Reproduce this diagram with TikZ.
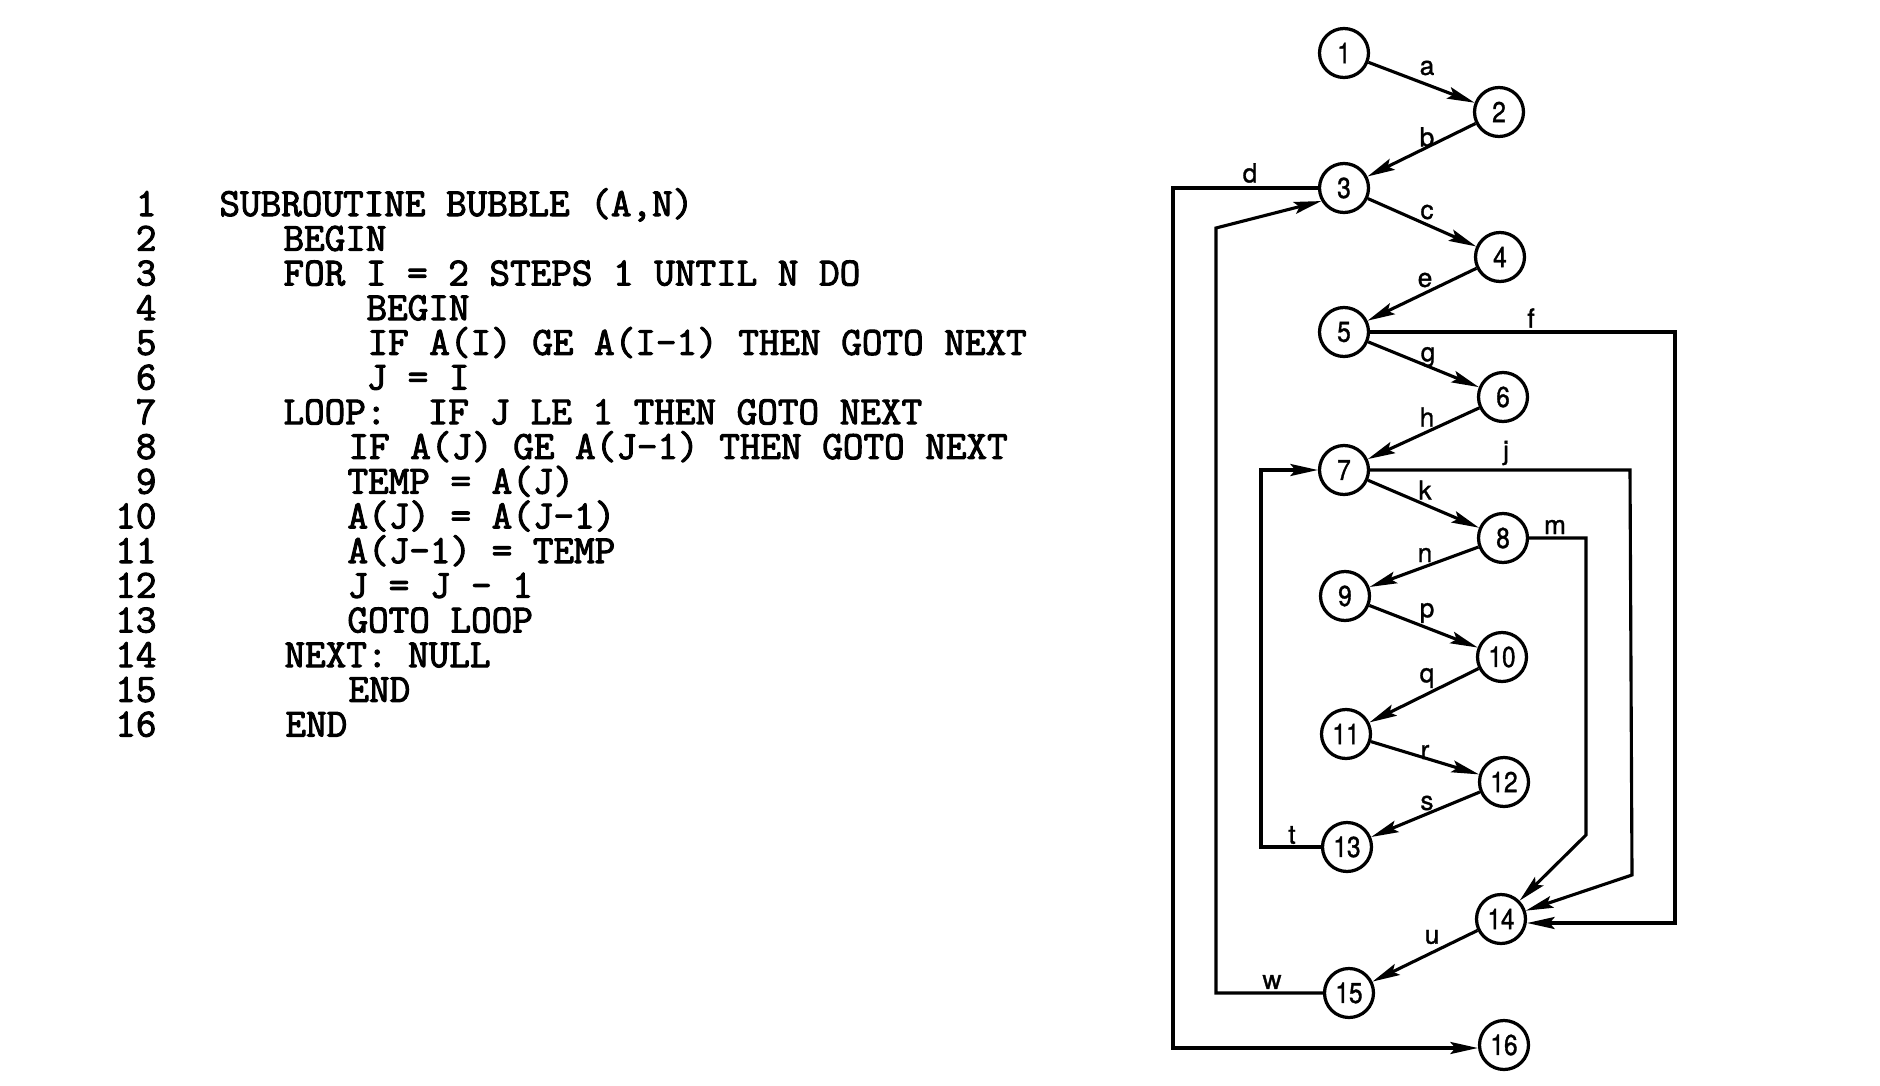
\documentclass[tikz,border=0pt]{standalone}
\usepackage{fontspec}
\usetikzlibrary{arrows.meta}
\newfontfamily\codefont{Latin Modern Mono}[FakeBold=2.5]
\newfontfamily\graphfont{TeX Gyre Heros}[FakeStretch=0.85,FakeBold=1.2]
\newfontfamily\labelfont{TeX Gyre Heros}[FakeBold=1.2]
\begin{document}
\begin{tikzpicture}[x=0.4pt,y=-0.4pt,
  cnode/.style={circle,draw,line width=1.3pt,minimum size=19.6pt,inner sep=0pt,font=\graphfont\fontsize{11.5}{12}\selectfont},
  elabel/.style={font=\labelfont\fontsize{10.5}{12}\selectfont,inner sep=0pt},
  arr/.style={line width=1.25pt,-{Stealth[length=11pt,width=4.8pt,inset=2pt]}},
  code/.style={anchor=base west,font=\codefont\fontsize{16}{13}\selectfont,inner sep=0pt,text height=10pt,text depth=1.5pt},
  num/.style={anchor=base east,font=\codefont\fontsize{16}{13}\selectfont,inner sep=0pt,text height=10pt,text depth=1.5pt}]
\fill[white] (0,0) rectangle (1880,1086);
\useasboundingbox (0,0) rectangle (1880,1086);

% ---- code listing ----
\node[num] (n1)  at (157,216)   {1};
\node[num] (n2)  at (157,250.7) {2};
\node[num] (n3)  at (157,285.4) {3};
\node[num] (n4)  at (157,320.1) {4};
\node[num] (n5)  at (157,354.8) {5};
\node[num] (n6)  at (157,389.5) {6};
\node[num] (n7)  at (157,424.2) {7};
\node[num] (n8)  at (157,458.9) {8};
\node[num] (n9)  at (157,493.6) {9};
\node[num] (n10) at (157,528.3) {10};
\node[num] (n11) at (157,563)   {11};
\node[num] (n12) at (157,597.7) {12};
\node[num] (n13) at (157,632.4) {13};
\node[num] (n14) at (157,667.1) {14};
\node[num] (n15) at (157,701.8) {15};
\node[num] (n16) at (157,736.5) {16};

\node[code] (c1)  at (219,216)   {SUBROUTINE BUBBLE (A,N)};
\node[code] (c2)  at (283,250.7) {BEGIN};
\node[code] (c3)  at (283,285.4) {FOR I = 2 STEPS 1 UNTIL N DO};
\node[code] (c4)  at (366,320.1) {BEGIN};
\node[code] (c5)  at (367,354.8) {IF A(I) GE A(I-1) THEN GOTO NEXT};
\node[code] (c6)  at (366,389.5) {J = I};
\node[code] (c7)  at (283,424.2) {LOOP:\ \ IF J LE 1 THEN GOTO NEXT};
\node[code] (c8)  at (348,458.9) {IF A(J) GE A(J-1) THEN GOTO NEXT};
\node[code] (c9)  at (347,493.6) {TEMP = A(J)};
\node[code] (c10) at (347,528.3) {A(J) = A(J-1)};
\node[code] (c11) at (347,563)   {A(J-1) = TEMP};
\node[code] (c12) at (347,597.7) {J = J - 1};
\node[code] (c13) at (347,632.4) {GOTO LOOP};
\node[code] (c14) at (284,667.1) {NEXT: NULL};
\node[code] (c15) at (348,701.8) {END};
\node[code] (c16) at (285,736.5) {END};

% ---- flow graph nodes ----
\node[cnode] (v1)  at (1344,53)   {1};
\node[cnode] (v2)  at (1499,112)  {2};
\node[cnode] (v3)  at (1344,188)  {3};
\node[cnode] (v4)  at (1500,257)  {4};
\node[cnode] (v5)  at (1344,332)  {5};
\node[cnode] (v6)  at (1503,397)  {6};
\node[cnode] (v7)  at (1344,470)  {7};
\node[cnode] (v8)  at (1503,538)  {8};
\node[cnode] (v9)  at (1345,596)  {9};
\node[cnode] (v10) at (1502,657)  {10};
\node[cnode] (v11) at (1346,734)  {11};
\node[cnode] (v12) at (1504,782)  {12};
\node[cnode] (v13) at (1347,847)  {13};
\node[cnode] (v14) at (1501,919)  {14};
\node[cnode] (v15) at (1349,993)  {15};
\node[cnode] (v16) at (1504,1045) {16};

% ---- bend points ----
\coordinate (dtop) at (1173,188);
\coordinate (dbot) at (1173,1048);
\coordinate (wbot) at (1216,993);
\coordinate (wtop) at (1216,228);
\coordinate (tbot) at (1261,847);
\coordinate (ttop) at (1261,470);
\coordinate (ftop) at (1675,332);
\coordinate (fbot) at (1675,923);
\coordinate (jtop) at (1630,470);
\coordinate (jbot) at (1632,875);
\coordinate (mtop) at (1586,538);
\coordinate (mbot) at (1586,835);

% ---- straight edges ----
\draw[arr] (v1) -- (v2);
\draw[arr] (v2) -- (v3);
\draw[arr] (v3) -- (v4);
\draw[arr] (v4) -- (v5);
\draw[arr] (v5) -- (v6);
\draw[arr] (v6) -- (v7);
\draw[arr] (v7) -- (v8);
\draw[arr] (v8) -- (v9);
\draw[arr] (v9) -- (v10);
\draw[arr] (v10) -- (v11);
\draw[arr] (v11) -- (v12);
\draw[arr] (v12) -- (v13);
\draw[arr] (v14) -- (v15);

% ---- routed edges ----
\draw[arr] (v3) -- (dtop) -- (dbot) -- (dbot -| v16.west);
\draw[arr] (v15) -- (wbot) -- (wtop) -- (v3.210);
\draw[arr] (v13) -- (tbot) -- (ttop) -- (v7);
\draw[arr] (v5) -- (ftop) -- (fbot) -- (fbot -| v14.east);
\draw[arr] (v7) -- (jtop) -- (jbot) -- (v14);
\draw[arr] (v8) -- (mtop) -- (mbot) -- (v14);

% ---- edge labels ----
\node[elabel] (la) at (1427,68)  {a};
\node[elabel] (lb) at (1427,137) {b};
\node[elabel] (lc) at (1427,212) {c};
\node[elabel] (ld) at (1250,173) {d};
\node[elabel] (le) at (1425,280) {e};
\node[elabel] (lf) at (1531,318) {f};
\node[elabel] (lg) at (1428,357) {g};
\node[elabel] (lh) at (1427,417) {h};
\node[elabel] (lj) at (1506,453) {j};
\node[elabel] (lk) at (1425,490) {k};
\node[elabel] (lm) at (1555,527) {m};
\node[elabel] (ln) at (1425,555) {n};
\node[elabel] (lp) at (1427,613) {p};
\node[elabel] (lq) at (1427,678) {q};
\node[elabel] (lr) at (1425,752) {r};
\node[elabel] (ls) at (1427,803) {s};
\node[elabel] (lt) at (1292,835) {t};
\node[elabel] (lu) at (1432,937) {u};
\node[elabel] (lw) at (1272,982) {w};
\end{tikzpicture}
\end{document}
